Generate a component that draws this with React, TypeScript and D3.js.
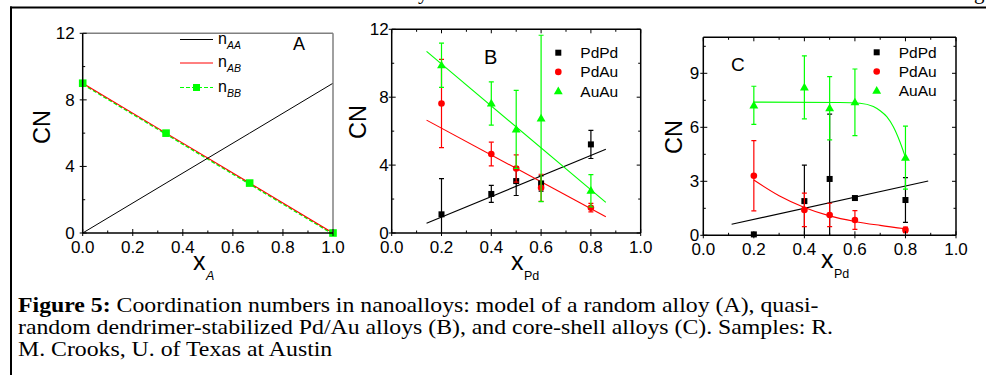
import React from 'react';
import * as d3 from 'd3';

// tick labels
const xTicks = [0, 0.2, 0.4, 0.6, 0.8, 1.0];
const yTicksAB = [0, 4, 8, 12];
const yTicksC = [0, 3, 6, 9];

// panel A: random alloy model
const modelX = [0, 0.333, 0.667, 1];
const nAA = [0, 3, 6, 9];
const nAB = [9, 6, 3, 0];
const nBB = [9, 6, 3, 0];

// panel B: quasi-random Pd/Au
const compB = [0.2, 0.4, 0.5, 0.6, 0.8];
const pdpdB = [1.1, 2.3, 3.06, 2.92, 5.22];
const pdpdBErr = [2.1, 0.5, 0.85, 0.45, 0.83];
const pdauB = [7.63, 4.65, 3.8, 2.66, 1.49];
const pdauBErr = [2.6, 0.7, 0.8, 0.8, 0.25];
const auauB = [9.88, 7.63, 6.1, 6.75, 2.49];
const auauBErr = [1.3, 1.27, 2.3, 4.9, 0.95];
const fitXB = [0.14, 0.86];
const pdpdFitB = [0.57, 4.94];
const pdauFitB = [6.65, 0.96];
const auauFitB = [10.7, 1.8];

// panel C: core-shell
const compC = [0.2, 0.4, 0.5, 0.6, 0.8];
const pdpdC = [0.05, 1.9, 3.13, 2.07, 1.96];
const pdpdCErr = [0, 2.0, 3.6, 0.08, 1.24];
const pdauC = [3.31, 1.41, 1.13, 0.85, 0.3];
const pdauCErr = [1.95, 0.93, 0.65, 0.52, 0.15];
const auauC = [7.22, 8.22, 7.06, 7.39, 4.31];
const auauCErr = [1.06, 1.75, 1.76, 1.85, 1.75];
const fitXC = [0.112, 0.89];
const pdpdFitC = [0.61, 3.02];
const pdauCurveX = [0.2, 0.3, 0.4, 0.5, 0.6, 0.7, 0.8];
const pdauCurveY = [3.07, 2.2, 1.55, 1.08, 0.77, 0.55, 0.36];
const auauCurveX = [0.2, 0.54, 0.62, 0.673, 0.7, 0.726, 0.752, 0.778, 0.8];
const auauCurveY = [7.4, 7.38, 7.34, 7.15, 6.92, 6.59, 6.03, 5.2, 4.33];

const legendNames = ['PdPd', 'PdAu', 'AuAu'];

const BLACK = '#000';
const RED = '#ff0000';
const GREEN = '#00ff00';
const SANS = 'Liberation Sans, Arial, sans-serif';
const SERIF = 'Liberation Serif, Times New Roman, serif';

type Sc = d3.ScaleLinear<number, number>;

function Marker({ kind, cx, cy, color }: { kind: string; cx: number; cy: number; color: string }) {
  if (kind === 'square') return <rect x={cx - 3} y={cy - 3} width={6} height={6} fill={color} />;
  if (kind === 'circle') return <circle cx={cx} cy={cy} r={3.3} fill={color} />;
  const s = d3.symbol().type(d3.symbolTriangle).size(34)();
  return <path d={s || ''} transform={`translate(${cx},${cy + 0.5})`} fill={color} />;
}

function Axes({ x, y, yTicks, mirror, label, labelOff, xLabelY, cnX, cnY, sub }: {
  x: Sc; y: Sc; yTicks: number[]; mirror: boolean; label: number; labelOff: number;
  xLabelY: number; cnX: number; cnY: number; sub: string;
}) {
  const [x0, x1] = x.range();
  const [y0, y1] = y.range();
  const step = yTicks[1] - yTicks[0];
  const yMinor = yTicks.map(t => t + step / 2).filter(t => y(t) >= y1 - 0.5);
  const xMinor = xTicks.slice(0, -1).map(t => t + 0.1);
  const frameTop = mirror ? BLACK : '#808080';
  return (
    <g>
      <line x1={x0} x2={x1} y1={y1} y2={y1} stroke={frameTop} strokeWidth={1.5} />
      <line x1={x1} x2={x1} y1={y1} y2={y0} stroke={frameTop} strokeWidth={1.5} />
      <line x1={x0} x2={x1} y1={y0} y2={y0} stroke={BLACK} strokeWidth={1.5} />
      <line x1={x0} x2={x0} y1={y1} y2={y0} stroke={BLACK} strokeWidth={1.5} />
      {xTicks.map(t => (
        <g key={'xt' + t}>
          <line x1={x(t)} x2={x(t)} y1={y0 + 3} y2={y0 - 4} stroke={BLACK} strokeWidth={1} />
          {mirror && <line x1={x(t)} x2={x(t)} y1={y1} y2={y1 + 4} stroke={BLACK} strokeWidth={1} />}
          <text x={x(t)} y={y0 + 20} textAnchor="middle" fontSize={17} fontFamily={SANS}>{t.toFixed(1)}</text>
        </g>
      ))}
      {xMinor.map(t => (
        <g key={'xm' + t}>
          <line x1={x(t)} x2={x(t)} y1={y0} y2={y0 - 2.5} stroke={BLACK} strokeWidth={1} />
          {mirror && <line x1={x(t)} x2={x(t)} y1={y1} y2={y1 + 2.5} stroke={BLACK} strokeWidth={1} />}
        </g>
      ))}
      {yTicks.map(t => (
        <g key={'yt' + t}>
          <line x1={x0 - 3} x2={x0 + 4} y1={y(t)} y2={y(t)} stroke={BLACK} strokeWidth={1} />
          {mirror && <line x1={x1} x2={x1 - 4} y1={y(t)} y2={y(t)} stroke={BLACK} strokeWidth={1} />}
          <text x={x0 - labelOff} y={y(t) + 6} textAnchor="end" fontSize={17} fontFamily={SANS}>{t}</text>
        </g>
      ))}
      {yMinor.map(t => (
        <g key={'ym' + t}>
          <line x1={x0} x2={x0 + 2.5} y1={y(t)} y2={y(t)} stroke={BLACK} strokeWidth={1} />
          {mirror && <line x1={x1} x2={x1 - 2.5} y1={y(t)} y2={y(t)} stroke={BLACK} strokeWidth={1} />}
        </g>
      ))}
      <text transform={`translate(${cnX},${cnY}) rotate(-90)`} textAnchor="middle" fontSize={23.5} fontFamily={SANS}>CN</text>
      <text x={label} y={xLabelY} fontSize={25} fontFamily={SANS}>x</text>
      <text x={label + 13} y={xLabelY + 10} fontSize={12.5} fontFamily={SANS} fontStyle={sub === 'A' ? 'italic' : 'normal'}>{sub}</text>
    </g>
  );
}

function ErrSeries({ x, y, xs, ys, errs, color, kind, clip }: {
  x: Sc; y: Sc; xs: number[]; ys: number[]; errs: number[]; color: string; kind: string; clip: string;
}) {
  return (
    <g>
      <g clipPath={`url(#${clip})`}>
        {xs.map((v, i) => errs[i] > 0.1 ? (
          <g key={i} stroke={color} strokeWidth={1.2}>
            <line x1={x(v)} x2={x(v)} y1={y(ys[i] - errs[i])} y2={y(ys[i] + errs[i])} />
            <line x1={x(v) - 2.5} x2={x(v) + 2.5} y1={y(ys[i] - errs[i])} y2={y(ys[i] - errs[i])} />
            <line x1={x(v) - 2.5} x2={x(v) + 2.5} y1={y(ys[i] + errs[i])} y2={y(ys[i] + errs[i])} />
          </g>
        ) : null)}
      </g>
      {xs.map((v, i) => <Marker key={'m' + i} kind={kind} cx={x(v)} cy={y(ys[i])} color={color} />)}
    </g>
  );
}

function Legend({ lx, ly, gap }: { lx: number; ly: number; gap: number }) {
  const kinds = ['square', 'circle', 'triangle'];
  const colors = [BLACK, RED, GREEN];
  return (
    <g>
      {legendNames.map((n, i) => (
        <g key={n}>
          <Marker kind={kinds[i]} cx={lx} cy={ly + i * gap} color={colors[i]} />
          <text x={lx + 22} y={ly + i * gap + 5.5} fontSize={15.5} fontFamily={SANS}>{n}</text>
        </g>
      ))}
    </g>
  );
}

function PanelA() {
  const x = d3.scaleLinear().domain([0, 1]).range([82.7, 333]);
  const y = d3.scaleLinear().domain([0, 12]).range([233, 33.3]);
  const line = d3.line<number>().x((_, i) => x(modelX[i])).y(d => y(d));
  const legendRows = [
    { sub: 'AA', color: BLACK, dash: '' },
    { sub: 'AB', color: RED, dash: '' },
    { sub: 'BB', color: GREEN, dash: '4,2' },
  ];
  const ly = [39.5, 63, 87.5];
  return (
    <g>
      <path d={line(nBB) || ''} fill="none" stroke={GREEN} strokeWidth={1.5} strokeDasharray="4,2" transform="translate(0,1)" />
      <path d={line(nAB) || ''} fill="none" stroke={RED} strokeWidth={1.1} />
      <path d={line(nAA) || ''} fill="none" stroke={BLACK} strokeWidth={1} />
      {nBB.map((v, i) => (
        <rect key={i} x={x(modelX[i]) - 3.8} y={y(v) - 3.8} width={7.6} height={7.6} fill={GREEN} />
      ))}
      <Axes x={x} y={y} yTicks={yTicksAB} mirror={false} label={193} labelOff={8} xLabelY={270} cnX={50} cnY={127} sub="A" />
      {legendRows.map((r, i) => (
        <g key={r.sub}>
          <line x1={180} x2={213} y1={ly[i]} y2={ly[i]} stroke={r.color} strokeWidth={1} strokeDasharray={r.dash} />
          {r.dash && <rect x={193} y={ly[i] - 3.5} width={7} height={7} fill={GREEN} />}
          <text x={218} y={ly[i] + 4} fontSize={16} fontFamily={SANS}>n</text>
          <text x={227} y={ly[i] + 9} fontSize={10.5} fontStyle="italic" fontFamily={SANS}>{r.sub}</text>
        </g>
      ))}
      <text x={293} y={50} fontSize={18} fontFamily={SANS}>A</text>
    </g>
  );
}

function PanelB() {
  const x = d3.scaleLinear().domain([0, 1]).range([391.7, 640.7]);
  const y = d3.scaleLinear().domain([0, 12]).range([233, 29.3]);
  const fit = d3.line<number>().x((_, i) => x(fitXB[i])).y(d => y(d));
  return (
    <g>
      <defs>
        <clipPath id="clipB"><rect x={391.7} y={29.3} width={249} height={203.7} /></clipPath>
      </defs>
      <path d={fit(pdpdFitB) || ''} fill="none" stroke={BLACK} strokeWidth={1.1} />
      <path d={fit(pdauFitB) || ''} fill="none" stroke={RED} strokeWidth={1.1} />
      <path d={fit(auauFitB) || ''} fill="none" stroke={GREEN} strokeWidth={1.1} />
      <ErrSeries x={x} y={y} xs={compB} ys={pdpdB} errs={pdpdBErr} color={BLACK} kind="square" clip="clipB" />
      <ErrSeries x={x} y={y} xs={compB} ys={pdauB} errs={pdauBErr} color={RED} kind="circle" clip="clipB" />
      <ErrSeries x={x} y={y} xs={compB} ys={auauB} errs={auauBErr} color={GREEN} kind="triangle" clip="clipB" />
      <Axes x={x} y={y} yTicks={yTicksAB} mirror={true} label={511} labelOff={3} xLabelY={270} cnX={366} cnY={122} sub="Pd" />
      <Legend lx={558.3} ly={52.7} gap={19.2} />
      <text x={484} y={64} fontSize={20} fontFamily={SANS}>B</text>
    </g>
  );
}

function PanelC() {
  const x = d3.scaleLinear().domain([0, 1]).range([703.3, 956]);
  const y = d3.scaleLinear().domain([0, 11]).range([235.3, 37.3]);
  const fit = d3.line<number>().x((_, i) => x(fitXC[i])).y(d => y(d));
  const curve = (xs: number[]) => d3.line<number>().x((_, i) => x(xs[i])).y(d => y(d)).curve(d3.curveMonotoneX);
  return (
    <g>
      <defs>
        <clipPath id="clipC"><rect x={703.3} y={37.3} width={252.7} height={198} /></clipPath>
      </defs>
      <path d={fit(pdpdFitC) || ''} fill="none" stroke={BLACK} strokeWidth={1.1} />
      <path d={curve(pdauCurveX)(pdauCurveY) || ''} fill="none" stroke={RED} strokeWidth={1.1} />
      <path d={curve(auauCurveX)(auauCurveY) || ''} fill="none" stroke={GREEN} strokeWidth={1.1} />
      <ErrSeries x={x} y={y} xs={compC} ys={pdpdC} errs={pdpdCErr} color={BLACK} kind="square" clip="clipC" />
      <ErrSeries x={x} y={y} xs={compC} ys={pdauC} errs={pdauCErr} color={RED} kind="circle" clip="clipC" />
      <ErrSeries x={x} y={y} xs={compC} ys={auauC} errs={auauCErr} color={GREEN} kind="triangle" clip="clipC" />
      <Axes x={x} y={y} yTicks={yTicksC} mirror={true} label={821} labelOff={4} xLabelY={268} cnX={682} cnY={137} sub="Pd" />
      <Legend lx={876.7} ly={52.3} gap={19.2} />
      <text x={731} y={71} fontSize={19} fontFamily={SANS}>C</text>
    </g>
  );
}

export default function App() {
  return (
    <svg width={986} height={375} style={{ position: 'absolute', left: 0, top: 0, background: '#fff' }}>
      <rect width={986} height={375} fill="#fff" />
      <text x={418} y={-1} fontSize={21} fontFamily={SERIF}>y</text>
      <text x={974} y={-1} fontSize={21} fontFamily={SERIF}>g</text>
      <line x1={10} x2={986} y1={7.5} y2={7.5} stroke={BLACK} strokeWidth={2} />
      <line x1={11} x2={11} y1={6.5} y2={375} stroke={BLACK} strokeWidth={2} />
      <PanelA />
      <PanelB />
      <PanelC />
      <g fontFamily={SERIF} fontSize={21.5} transform="translate(18,0) scale(1.107,1)">
        <text x={0} y={312}><tspan fontWeight="bold">Figure 5:</tspan> Coordination numbers in nanoalloys: model of a random alloy (A), quasi-</text>
        <text x={0} y={334}>random dendrimer-stabilized Pd/Au alloys (B), and core-shell alloys (C). Samples: R.</text>
        <text x={0} y={356}>M. Crooks, U. of Texas at Austin</text>
      </g>
    </svg>
  );
}
